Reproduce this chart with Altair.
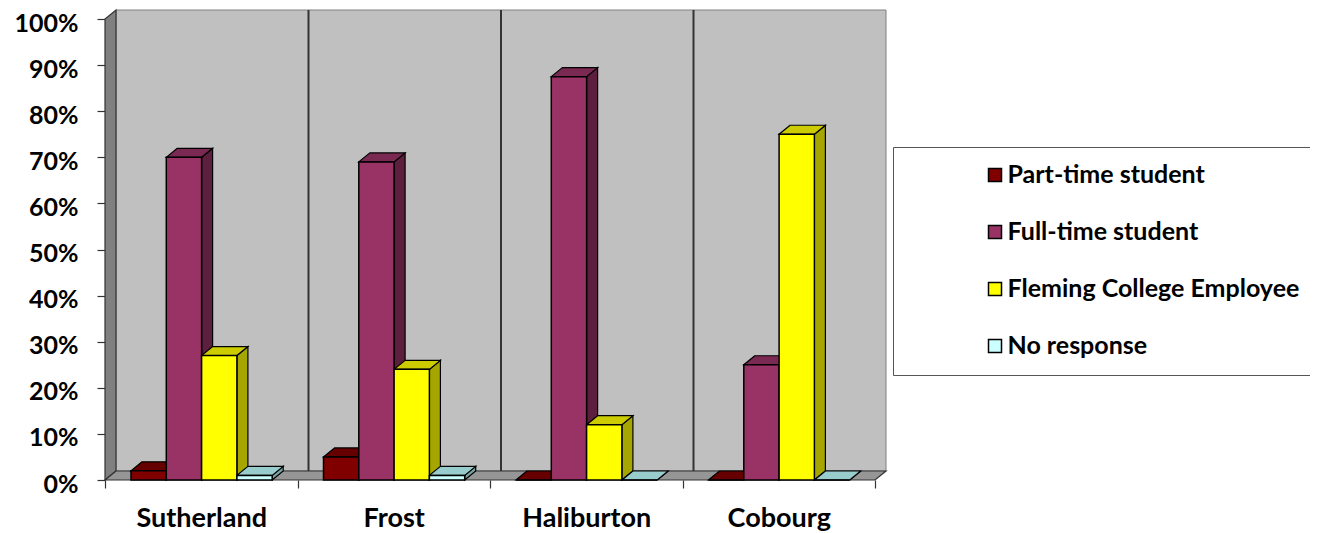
import json
import altair as alt
import pandas as pd

# ---- data ----
categories = ["Sutherland", "Frost", "Haliburton", "Cobourg"]
series = ["Part-time student", "Full-time student", "Fleming College Employee", "No response"]
part_time = [0.02, 0.05, 0.0, 0.0]
full_time = [0.70, 0.69, 0.875, 0.25]
employee = [0.27, 0.24, 0.12, 0.75]
no_response = [0.01, 0.01, 0.0, 0.0]
values = [part_time, full_time, employee, no_response]

front_colors = ["#800000", "#993366", "#FFFF00", "#CCFFFF"]
top_colors = ["#660000", "#7A2952", "#CCCC00", "#99CCCC"]
side_colors = ["#4D0000", "#5C1F3D", "#A6A600", "#7AA3A3"]

# ---- geometry (style) ----
PX_PER_CAT = 192.5
PX_PER_UNIT_Y = 461.0
DX = 11 / PX_PER_CAT          # depth offset in x units
DY = 9 / PX_PER_UNIT_Y        # depth offset in y units
YMAX = 1.0 + DY
N = len(categories)
LEFT = 26 / PX_PER_CAT
BW = 35.3 / PX_PER_CAT

front_rows, top_rows, side_rows = [], [], []
for i, cat in enumerate(categories):
    for j, s in enumerate(series):
        v = values[j][i]
        x1 = i + LEFT + j * BW
        x2 = x1 + BW
        bid = f"{i}-{j}"
        front_rows.append({"id": bid, "cat": cat, "series": s, "x": x1, "x2": x2, "y": 0.0, "y2": v})
        top_rows += [
            {"id": bid, "shade": top_colors[j], "y": v, "xa": x1, "xb": x2},
            {"id": bid, "shade": top_colors[j], "y": v + DY, "xa": x1 + DX, "xb": x2 + DX},
        ]
        side_rows += [
            {"id": bid, "shade": side_colors[j], "x": x2, "ya": 0.0, "yb": v},
            {"id": bid, "shade": side_colors[j], "x": x2 + DX, "ya": DY, "yb": v + DY},
        ]

front_df = pd.DataFrame(front_rows)
top_df = pd.DataFrame(top_rows)
side_df = pd.DataFrame(side_rows)

label_expr = "datum.value < %d ? %s[datum.value] : ''" % (N, json.dumps(categories))

xscale = alt.Scale(domain=[0, N + DX], nice=False, zero=False)
yscale = alt.Scale(domain=[0, YMAX], nice=False, zero=True)

FONT = "Lato"

x_axis = alt.Axis(
    values=list(range(N + 1)), labelExpr=label_expr, title=None, domain=False,
    grid=False, tickSize=8, tickColor="#333333", tickWidth=1.2,
    labelFont=FONT, labelFontSize=27, labelFontWeight="bold", labelColor="black",
    labelAlign="center", labelOffset=PX_PER_CAT / 2, labelPadding=17, labelFlush=False,
)
y_axis = alt.Axis(
    values=[k / 10 for k in range(11)], format=".0%", title=None, domain=False,
    grid=False, tickSize=8, tickColor="#333333", tickWidth=1.2,
    labelFont=FONT, labelFontSize=25, labelFontWeight="bold", labelColor="black",
    labelPadding=19, labelOffset=4, labelFlush=False,
)

# walls
back_df = pd.DataFrame([{"x": DX, "x2": N + DX, "y": DY, "y2": YMAX}])
back = alt.Chart(back_df).mark_rect(fill="#C0C0C0", stroke="#808080", strokeWidth=1).encode(
    x=alt.X("x:Q", scale=xscale, axis=x_axis), x2="x2:Q",
    y=alt.Y("y:Q", scale=yscale, axis=y_axis), y2="y2:Q",
)

left_df = pd.DataFrame([{"x": 0.0, "y": 0.0, "y2": 1.0}, {"x": DX, "y": DY, "y2": YMAX}])
left_wall = alt.Chart(left_df).mark_area(fill="#808080", stroke="#333333", strokeWidth=1.2, orient="vertical").encode(
    x=alt.X("x:Q", scale=xscale), y=alt.Y("y:Q", scale=yscale), y2="y2:Q",
)

floor_df = pd.DataFrame([{"y": 0.0, "x": 0.0, "x2": float(N)}, {"y": DY, "x": DX, "x2": N + DX}])
floor = alt.Chart(floor_df).mark_area(fill="#969696", stroke="#333333", strokeWidth=1.2, orient="horizontal").encode(
    y=alt.Y("y:Q", scale=yscale), x=alt.X("x:Q", scale=xscale), x2="x2:Q",
)

grid_df = pd.DataFrame([{"x": i + DX, "y": DY, "y2": YMAX} for i in range(1, N)])
grid = alt.Chart(grid_df).mark_rule(color="#333333", strokeWidth=2).encode(
    x=alt.X("x:Q", scale=xscale), y=alt.Y("y:Q", scale=yscale), y2="y2:Q",
)

sides = alt.Chart(side_df).mark_area(orient="vertical", stroke="black", strokeWidth=1.2).encode(
    x=alt.X("x:Q", scale=xscale), y=alt.Y("ya:Q", scale=yscale), y2="yb:Q",
    fill=alt.Fill("shade:N", scale=None), detail="id:N",
)

tops = alt.Chart(top_df).mark_area(orient="horizontal", stroke="black", strokeWidth=1.2).encode(
    y=alt.Y("y:Q", scale=yscale), x=alt.X("xa:Q", scale=xscale), x2="xb:Q",
    fill=alt.Fill("shade:N", scale=None), detail="id:N",
)

fronts = alt.Chart(front_df).mark_rect(stroke="black", strokeWidth=1.5).encode(
    x=alt.X("x:Q", scale=xscale), x2="x2:Q",
    y=alt.Y("y:Q", scale=yscale), y2="y2:Q",
    color=alt.Color(
        "series:N",
        scale=alt.Scale(domain=series, range=front_colors),
        legend=alt.Legend(
            title=None, orient="none", legendX=788, legendY=137,
            direction="vertical", symbolType="square", symbolSize=169,
            symbolStrokeColor="black", symbolStrokeWidth=1.5, symbolOpacity=1,
            labelFont=FONT, labelFontSize=25, labelFontWeight="bold", labelColor="black",
            rowPadding=31, padding=15.5, strokeColor="#555555", fillColor="white",
            symbolOffset=74, labelOffset=0, labelLimit=400,
        ),
    ),
)

chart = alt.layer(back, left_wall, floor, grid, sides, tops, fronts).properties(
    width=(N + DX) * PX_PER_CAT,
    height=YMAX * PX_PER_UNIT_Y,
    padding={"left": 97, "top": 2, "right": 424, "bottom": 53},
    autosize=alt.AutoSizeParams(type="none"),
    background="white",
).configure_view(strokeWidth=0)

chart.save("out.html", embed_options={"renderer": "svg", "actions": False})
